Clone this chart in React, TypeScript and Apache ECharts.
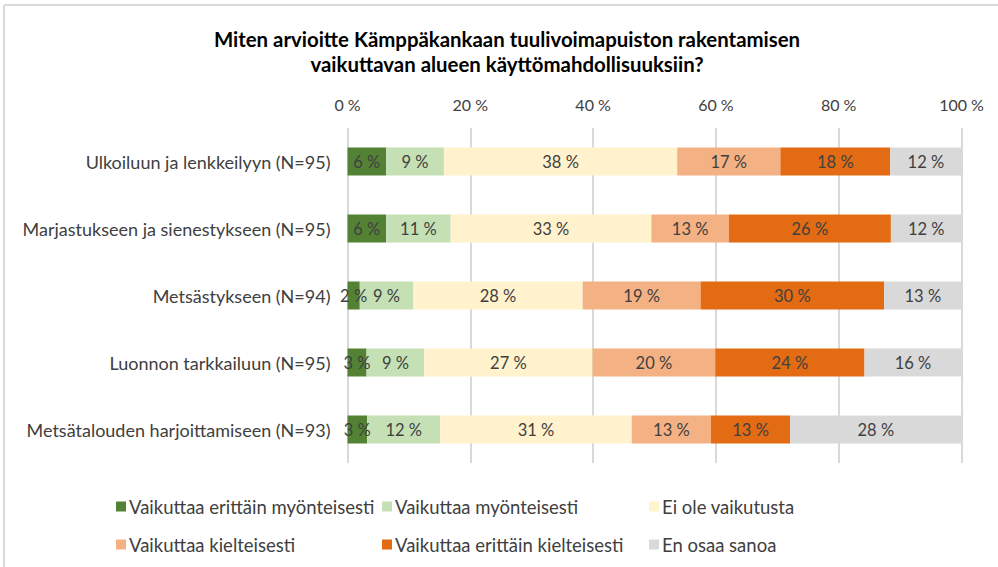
import React, { useEffect, useRef } from "react";
import * as echarts from "echarts";

const categories = [
  "Ulkoiluun ja lenkkeilyyn (N=95)",
  "Marjastukseen ja sienestykseen (N=95)",
  "Metsästykseen (N=94)",
  "Luonnon tarkkailuun (N=95)",
  "Metsätalouden harjoittamiseen (N=93)",
];

const seriesNames = [
  "Vaikuttaa erittäin myönteisesti",
  "Vaikuttaa myönteisesti",
  "Ei ole vaikutusta",
  "Vaikuttaa kielteisesti",
  "Vaikuttaa erittäin kielteisesti",
  "En osaa sanoa",
];

const veryPositive = [6.3, 6.3, 2.0, 3.1, 3.2];
const positive = [9.4, 10.5, 8.7, 9.4, 11.9];
const noEffect = [38.0, 32.7, 27.6, 27.4, 31.2];
const negative = [16.8, 12.6, 19.2, 20.0, 12.9];
const veryNegative = [17.9, 26.4, 29.9, 24.3, 12.9];
const dontKnow = [11.6, 11.5, 12.6, 15.8, 27.9];

const colors = ["#548235", "#c5e0b4", "#fff2cc", "#f4b183", "#e26b14", "#d9d9d9"];

const FONT = "Lato, 'Open Sans', sans-serif";

export default function App() {
  const ref = useRef<HTMLDivElement>(null);
  useEffect(() => {
    if (!ref.current) return;
    const chart = echarts.init(ref.current, null, { renderer: "svg" });
    const allData = [veryPositive, positive, noEffect, negative, veryNegative, dontKnow];
    const legendPos = [
      [116, 497],
      [382, 497],
      [649, 497],
      [116, 535],
      [382, 535],
      [649, 535],
    ];
    chart.setOption({
      animation: false,
      backgroundColor: "#ffffff",
      textStyle: { fontFamily: FONT },
      title: {
        text: "Miten arvioitte Kämppäkankaan tuulivoimapuiston rakentamisen\nvaikuttavan alueen käyttömahdollisuuksiin?",
        left: 502,
        top: 21,
        textAlign: "center",
        textStyle: {
          fontFamily: FONT,
          fontSize: 20.4,
          fontWeight: "bold",
          color: "#000000",
          lineHeight: 25,
        },
      },
      legend: seriesNames.map((n, i) => ({
        data: [n],
        left: legendPos[i][0],
        top: legendPos[i][1],
        padding: 0,
        itemWidth: 10,
        itemHeight: 10,
        icon: "rect",
        selectedMode: false,
        textStyle: { fontFamily: FONT, fontSize: 18.5, color: "#404040", padding: [0, 0, 0, -2] },
      })),
      grid: { left: 347.5, right: 36.5, top: 128, bottom: 104, containLabel: false },
      xAxis: {
        type: "value",
        position: "top",
        min: 0,
        max: 100,
        interval: 20,
        axisLine: { show: false },
        axisTick: { show: false },
        splitLine: { show: true, lineStyle: { color: "#d9d9d9", width: 2 } },
        axisLabel: {
          formatter: (v: number) => `${v} %`,
          fontFamily: FONT,
          fontSize: 16,
          color: "#404040",
          margin: 16,
        },
      },
      yAxis: {
        type: "category",
        inverse: true,
        data: categories,
        axisLine: { show: false },
        axisTick: { show: false },
        axisLabel: { fontFamily: FONT, fontSize: 18, color: "#404040", margin: 17 },
      },
      series: seriesNames.map((n, i) => ({
        name: n,
        type: "bar",
        stack: "total",
        barWidth: 28,
        data: allData[i],
        itemStyle: { color: colors[i] },
        label: {
          show: true,
          position: "inside",
          formatter: (p: any) => `${Math.round(p.value)} %`,
          fontFamily: FONT,
          fontSize: 16.5,
          color: "#404040",
        },
      })),
      graphic: [
        { type: "line", shape: { x1: 4, y1: 5, x2: 998, y2: 5 }, style: { stroke: "#d9d9d9", lineWidth: 2 } },
        { type: "line", shape: { x1: 4, y1: 5, x2: 4, y2: 567 }, style: { stroke: "#d9d9d9", lineWidth: 2 } },
      ],
    });
    return () => chart.dispose();
  }, []);
  return (
    <div
      ref={ref}
      style={{ position: "absolute", left: 0, top: 0, width: 998, height: 567 }}
    />
  );
}
